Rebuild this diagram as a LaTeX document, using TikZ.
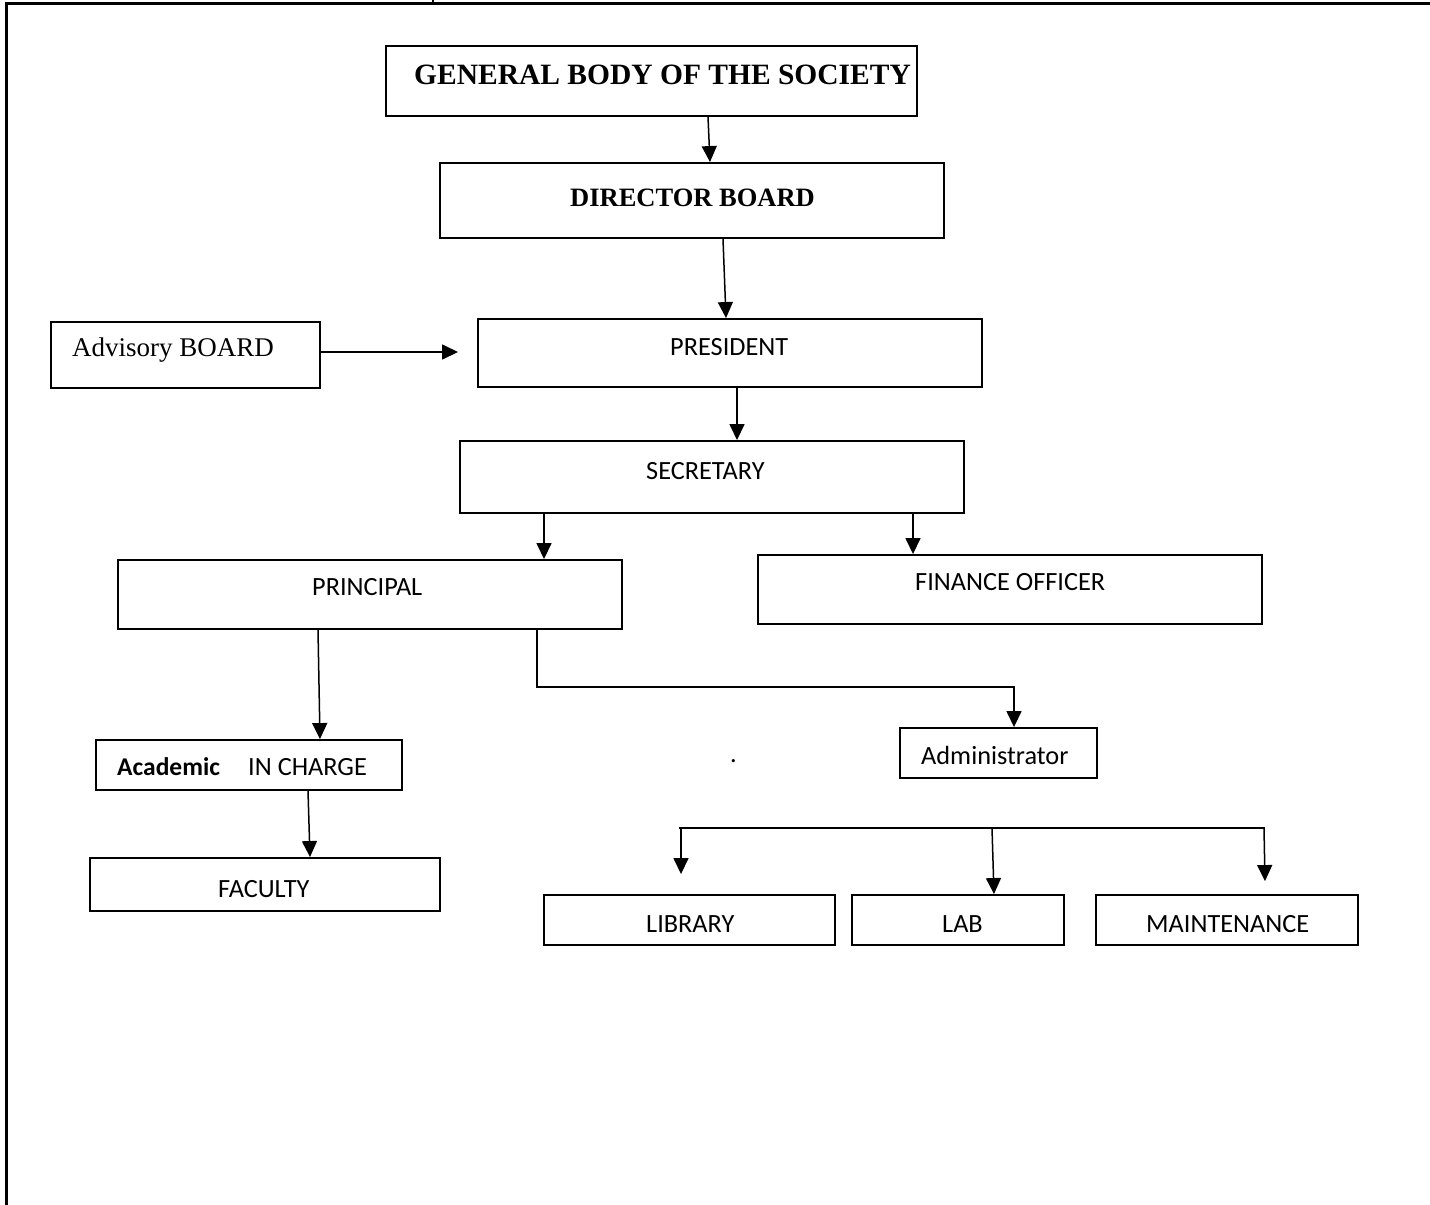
\documentclass[tikz,border=0pt]{standalone}
\usepackage{fontspec}
\setmainfont{Liberation Serif}
\newfontfamily\calibrifont{Carlito}
\usetikzlibrary{arrows.meta}
\begin{document}
\begin{tikzpicture}[x=1pt,y=-1pt,
  box/.style={draw, line width=1.9pt, inner sep=0pt},
  frameline/.style={line width=3pt},
  sanslbl/.style={anchor=base west, inner sep=0pt, font=\calibrifont\fontsize{26.3}{30}\selectfont},
  serlbl/.style={anchor=base west, inner sep=0pt, font=\fontsize{27}{32}\selectfont},
  arr/.style={line width=1.5pt, -{Triangle[length=16pt,width=15pt]}},
  plainline/.style={line width=1.5pt}]
\useasboundingbox (0,0) rectangle (1430,1205);
% frame
\coordinate (fTL) at (6,3);
\coordinate (fTR) at (1430,3);
\coordinate (fBL) at (6,1205);
\coordinate (tickT) at (433,0);
\coordinate (tickB) at (433,3);
\draw[frameline] (fBL) -- (fTL) -- (fTR);
\draw[line width=1.5pt] (tickT) -- (tickB);
% boxes
\node[box, minimum width=531pt, minimum height=70pt] (gb) at (651.5,81) {};
\node[box, minimum width=504pt, minimum height=75pt] (db) at (692,200.5) {};
\node[box, minimum width=269pt, minimum height=66pt] (adv) at (185.5,355) {};
\node[box, minimum width=504pt, minimum height=68pt] (pres) at (730,353) {};
\node[box, minimum width=504pt, minimum height=72pt] (sec) at (712,477) {};
\node[box, minimum width=504pt, minimum height=69pt] (prin) at (370,594.5) {};
\node[box, minimum width=504pt, minimum height=69pt] (fin) at (1010,589.5) {};
\node[box, minimum width=197pt, minimum height=50pt] (adm) at (998.5,753) {};
\node[box, minimum width=306pt, minimum height=50pt] (aca) at (249,765) {};
\node[box, minimum width=350pt, minimum height=53pt] (fac) at (265,884.5) {};
\node[box, minimum width=291pt, minimum height=50pt] (lib) at (689.5,920) {};
\node[box, minimum width=212pt, minimum height=50pt] (lab) at (958,920) {};
\node[box, minimum width=262pt, minimum height=50pt] (mnt) at (1227,920) {};
% texts
\node[serlbl, font=\bfseries\fontsize{29.5}{34}\selectfont] (tgb) at (414,84) {GENERAL BODY OF THE SOCIETY};
\node[serlbl, font=\bfseries\fontsize{26.5}{32}\selectfont] (tdb) at (570,206) {DIRECTOR BOARD};
\node[serlbl] (tadv) at (72,356) {Advisory BOARD};
\node[sanslbl] (tpres) at (670,355) {PRESIDENT};
\node[sanslbl] (tsec) at (646,479) {SECRETARY};
\node[sanslbl] (tprin) at (312,595) {PRINCIPAL};
\node[sanslbl] (tfin) at (915,590) {FINANCE OFFICER};
\node[sanslbl] (tadm) at (921,764) {Administrator};
\node[sanslbl, font=\calibrifont\bfseries\fontsize{25.5}{30}\selectfont] (taca1) at (117,775) {Academic};
\node[sanslbl] (taca2) at (248,775) {IN CHARGE};
\node[sanslbl] (tfac) at (218,897) {FACULTY};
\node[sanslbl] (tlib) at (646,932) {LIBRARY};
\node[sanslbl] (tlab) at (942,932) {LAB};
\node[sanslbl] (tmnt) at (1146,932) {MAINTENANCE};
\node[sanslbl] (tdot) at (730,762) {.};
% connectors
\draw[arr] ([xshift=56.5pt]gb.south) -- ([xshift=18pt]db.north);
\draw[arr] ([xshift=31pt]db.south) -- ([xshift=-4pt]pres.north);
\draw[arr] ([yshift=3pt]adv.east) -- ([xshift=-19pt,yshift=1pt]pres.west);
\draw[arr] ([xshift=7pt]pres.south) -- ([xshift=25pt]sec.north);
\draw[arr] ([xshift=-168pt]sec.south) -- ([xshift=174pt]prin.north);
\draw[arr] ([xshift=201pt]sec.south) -- ([xshift=-97pt]fin.north);
\draw[arr] ([xshift=-52pt]prin.south) -- ([xshift=71pt]aca.north);
\draw[arr] ([xshift=167pt]prin.south) -- ++(0,57) -| ([xshift=15.5pt]adm.north);
\draw[arr] ([xshift=59pt]aca.south) -- ([xshift=45pt]fac.north);
% bracket
\coordinate (brL) at (679,828);
\coordinate (brR) at (1265,828);
\coordinate (brM) at (992,828);
\coordinate (brA) at (681,828);
\coordinate (brC) at (1264,828);
\draw[plainline] (brL) -- (brR);
\draw[arr] (brA) -- ([xshift=-8.5pt,yshift=20pt]lib.north);
\draw[arr] (brM) -- ([xshift=36pt]lab.north);
\draw[arr] (brC) -- ([xshift=38pt,yshift=13pt]mnt.north);
\end{tikzpicture}
\end{document}
